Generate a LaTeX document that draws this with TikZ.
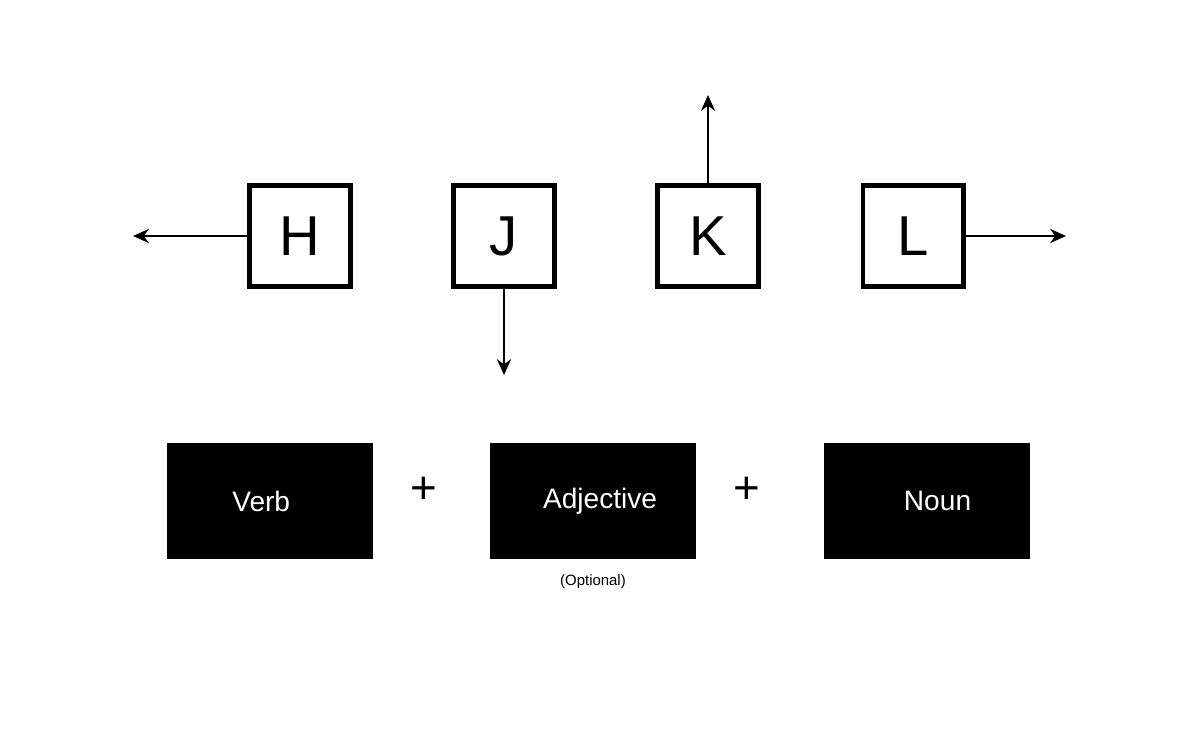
\documentclass[tikz,border=0pt]{standalone}
\usepackage{fontspec}
\setmainfont{Liberation Sans}
\usetikzlibrary{arrows.meta}
\begin{document}
\begin{tikzpicture}[x=0.02cm,y=-0.02cm,
  key/.style={draw=black,line width=2.3pt,minimum size=2.02cm,inner sep=0pt,font=\fontsize{32}{36}\selectfont},
  blk/.style={fill=black,minimum width=4.12cm,minimum height=2.32cm,inner sep=0pt,text=white,font=\fontsize{16}{18}\selectfont},
  arr/.style={-{Stealth[length=9pt,width=8pt]},line width=1.4pt}]
\useasboundingbox (0,0) rectangle (1200,750);
\node[key] (H) at (300,236) {H};
\node[key] (J) at (504,236) {J};
\node[key] (K) at (708,236) {K};
\node[key] (L) at (913,236) {L};
\coordinate (hl) at (133,236);
\coordinate (jd) at (504,375);
\coordinate (ku) at (708,95);
\coordinate (lr) at (1066,236);
\draw[arr] (H.west) -- (hl);
\draw[arr] (J.south) -- (jd);
\draw[arr] (K.north) -- (ku);
\draw[arr] (L.east) -- (lr);
\node[blk] (v) at (270,501) {\hspace*{-10pt}Verb};
\node[blk] (a) at (593,501) {\hspace*{8pt}Adjective};
\node[blk] (n) at (927,501) {\hspace*{12pt}Noun};
\node[font=\fontsize{26}{28}\selectfont] (p1) at (424,490) {+};
\node[font=\fontsize{26}{28}\selectfont] (p2) at (747,490) {+};
\node[font=\fontsize{8.5}{10}\selectfont] (o) at (593,582) {(Optional)};
\end{tikzpicture}
\end{document}
